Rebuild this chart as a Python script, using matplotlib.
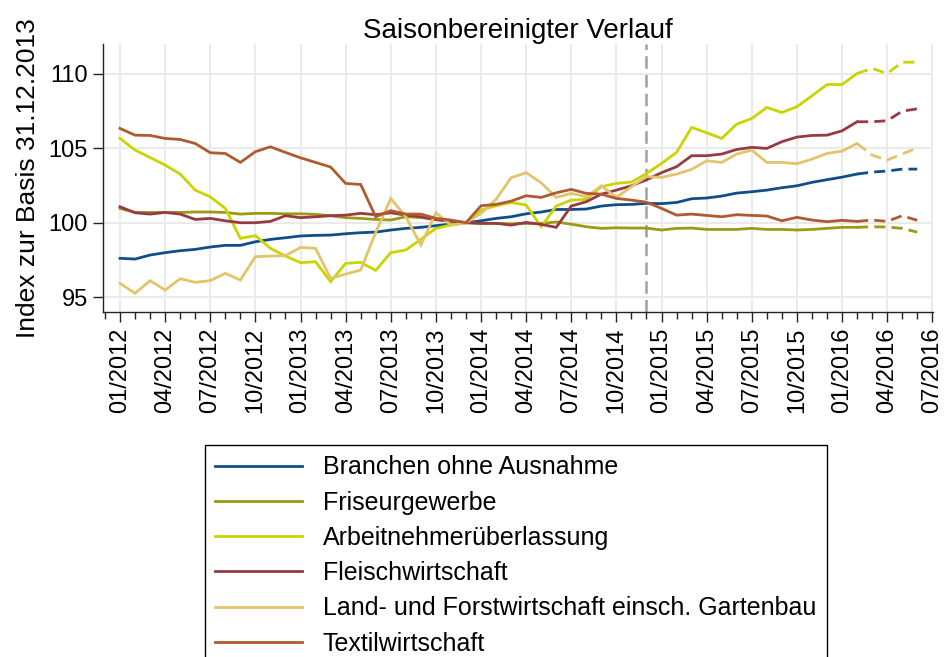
import matplotlib
matplotlib.use("Agg")
import matplotlib.pyplot as plt
import numpy as np
from matplotlib.ticker import MultipleLocator, FixedLocator

plt.rcParams['font.family'] = ['Liberation Sans', 'DejaVu Sans']

# month index 0 = 01/2012 ... 53 = 06/2016
n_months = 54
forecast_start = 49          # last solid point (02/2016)
break_month = 35             # vertical dashed line (12/2014)

tick_labels = ["01/2012", "04/2012", "07/2012", "10/2012",
               "01/2013", "04/2013", "07/2013", "10/2013",
               "01/2014", "04/2014", "07/2014", "10/2014",
               "01/2015", "04/2015", "07/2015", "10/2015",
               "01/2016", "04/2016", "07/2016"]

branchen = [97.61, 97.56, 97.83, 97.99, 98.12, 98.21, 98.37, 98.48, 98.48, 98.72, 98.88, 98.99, 99.11, 99.15, 99.17, 99.26, 99.33, 99.37,
            99.51, 99.62, 99.69, 99.80, 99.91, 100.0, 100.13, 100.29, 100.40, 100.60, 100.72, 100.89, 100.89, 100.92, 101.12, 101.21, 101.23, 101.30,
            101.28, 101.36, 101.61, 101.66, 101.79, 101.99, 102.08, 102.19, 102.35, 102.48, 102.71, 102.89, 103.06, 103.27, 103.40, 103.47, 103.60, 103.60]
friseur = [100.96, 100.69, 100.69, 100.69, 100.69, 100.72, 100.72, 100.69, 100.58, 100.63, 100.63, 100.60, 100.60, 100.56, 100.47, 100.34, 100.29, 100.22,
           100.18, 100.40, 100.35, 100.20, 100.10, 100.0, 99.95, 99.95, 99.93, 99.95, 99.95, 100.05, 99.90, 99.73, 99.62, 99.66, 99.64, 99.64,
           99.51, 99.62, 99.64, 99.55, 99.55, 99.55, 99.62, 99.55, 99.55, 99.51, 99.55, 99.62, 99.69, 99.69, 99.73, 99.71, 99.62, 99.37]
arbeit = [105.66, 104.88, 104.38, 103.87, 103.27, 102.19, 101.74, 100.96, 98.95, 99.13, 98.28, 97.76, 97.32, 97.38, 96.04, 97.27, 97.34, 96.80,
          97.99, 98.17, 98.88, 99.62, 99.85, 100.0, 100.85, 101.14, 101.36, 101.19, 99.73, 101.12, 101.52, 101.57, 102.42, 102.64, 102.73, 103.30,
          103.98, 104.72, 106.40, 106.04, 105.66, 106.62, 107.00, 107.74, 107.40, 107.79, 108.52, 109.28, 109.28, 110.02, 110.36, 110.02, 110.78, 110.78]
fleisch = [101.07, 100.67, 100.58, 100.69, 100.58, 100.22, 100.29, 100.13, 100.0, 100.0, 100.09, 100.47, 100.34, 100.40, 100.47, 100.51, 100.63, 100.54,
           100.67, 100.51, 100.40, 100.22, 100.11, 100.0, 99.96, 99.96, 99.84, 100.02, 99.89, 99.69, 101.12, 101.41, 101.92, 102.19, 102.48, 102.88,
           103.36, 103.76, 104.50, 104.50, 104.61, 104.92, 105.06, 104.99, 105.44, 105.75, 105.86, 105.88, 106.17, 106.78, 106.78, 106.85, 107.49, 107.65]
land = [95.93, 95.26, 96.11, 95.48, 96.24, 96.00, 96.11, 96.60, 96.15, 97.72, 97.76, 97.79, 98.34, 98.28, 96.26, 96.55, 96.82, 99.35,
        101.63, 100.40, 98.50, 100.67, 99.84, 100.0, 100.63, 101.57, 103.02, 103.36, 102.68, 101.70, 101.97, 101.74, 102.48, 101.70, 102.42, 103.10,
        103.04, 103.27, 103.58, 104.16, 104.05, 104.61, 104.88, 104.05, 104.05, 103.96, 104.27, 104.65, 104.81, 105.32, 104.54, 104.21, 104.61, 105.03]
textil = [106.33, 105.88, 105.86, 105.66, 105.59, 105.32, 104.70, 104.65, 104.05, 104.77, 105.10, 104.72, 104.36, 104.05, 103.74, 102.64, 102.57, 100.40,
          100.81, 100.58, 100.58, 100.29, 100.18, 100.0, 101.14, 101.23, 101.45, 101.81, 101.70, 102.01, 102.24, 101.97, 101.92, 101.63, 101.52, 101.38,
          100.96, 100.51, 100.58, 100.49, 100.40, 100.54, 100.49, 100.45, 100.13, 100.36, 100.18, 100.07, 100.16, 100.09, 100.18, 100.09, 100.47, 100.16]

series = [
    ("Branchen ohne Ausnahme", branchen, "#104e8b"),
    ("Friseurgewerbe", friseur, "#9a9a14"),
    ("Arbeitnehmerüberlassung", arbeit, "#cad400"),
    ("Fleischwirtschaft", fleisch, "#963a44"),
    ("Land- und Forstwirtschaft einsch. Gartenbau", land, "#e2c46a"),
    ("Textilwirtschaft", textil, "#b05a30"),
]

FS_TICK = 17
FS_TITLE = 20
FS_YLAB = 19
FS_LEG = 18

fig = plt.figure(figsize=(9.46, 6.57), dpi=100)
ax = fig.add_axes([0.1089, 0.525, 0.8774, 0.408])

x = np.arange(n_months)
handles = []
for name, vals, col in series:
    v = np.array(vals)
    h, = ax.plot(x[:forecast_start + 1], v[:forecast_start + 1], color=col, lw=2.0,
                 solid_joinstyle='miter', zorder=3, label=name)
    ax.plot(x[forecast_start:], v[forecast_start:], color=col, lw=2.0,
            ls=(0, (4, 2.2)), zorder=3)
    handles.append(h)

ax.axvline(break_month, color="#a0a0a0", lw=1.8, ls=(0, (5, 2.5)), zorder=2)

ax.set_xlim(-1.13, 54.05)
ax.set_ylim(94.0, 112.0)

ax.xaxis.set_major_locator(FixedLocator(np.arange(0, 55, 3)))
ax.xaxis.set_minor_locator(MultipleLocator(1))
ax.set_xticklabels(tick_labels, rotation=90, fontsize=FS_TICK)
ax.set_yticks([95, 100, 105, 110])
ax.set_yticklabels(["95", "100", "105", "110"], fontsize=FS_TICK)

ax.grid(True, which='major', color="#eaeaea", lw=1.5, zorder=0)
ax.set_axisbelow(True)
for s in ["top", "right"]:
    ax.spines[s].set_visible(False)
for s in ["left", "bottom"]:
    ax.spines[s].set_color("#222222")
    ax.spines[s].set_linewidth(1.0)
ax.tick_params(axis='both', which='major', length=7, width=1, color="#222222", pad=4)
ax.tick_params(axis='x', which='minor', length=5, width=1, color="#222222")

ax.set_title("Saisonbereinigter Verlauf", fontsize=FS_TITLE, pad=3)
ax.set_ylabel("Index zur Basis 31.12.2013", fontsize=FS_YLAB, labelpad=6)

leg = fig.legend(handles=handles, loc="upper left", bbox_to_anchor=(0.2167, 0.323),
                 fontsize=FS_LEG, frameon=True, fancybox=False, framealpha=1,
                 edgecolor="black", handlelength=3.45, handletextpad=0.85,
                 labelspacing=0.45, borderpad=0.42, borderaxespad=0)
leg.get_frame().set_linewidth(1.0)

fig.savefig("out.png", dpi=100)
